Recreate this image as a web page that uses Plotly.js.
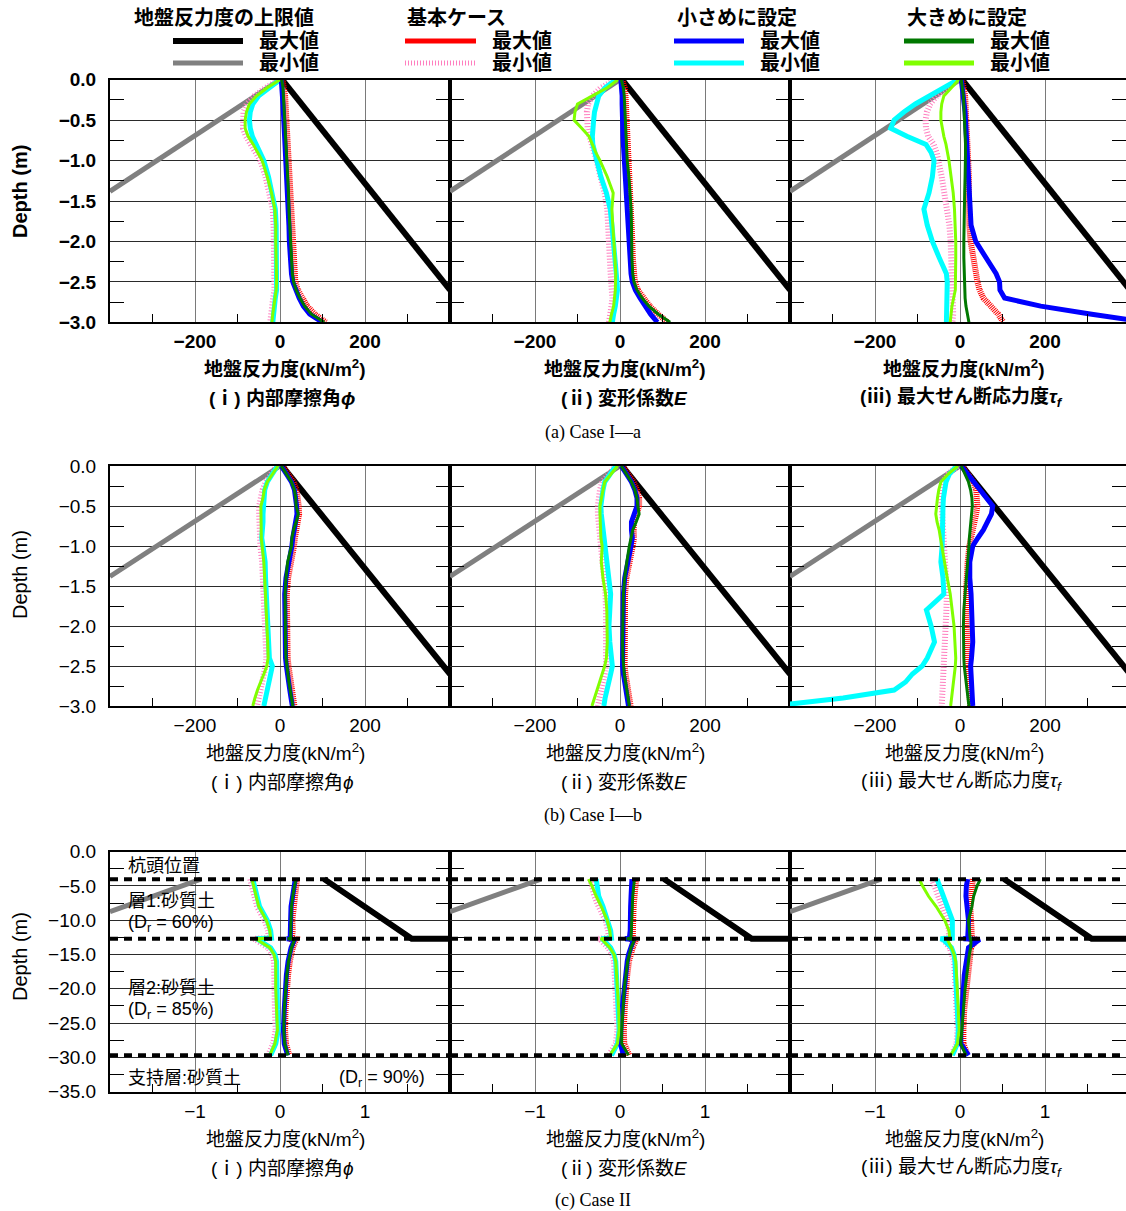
<!DOCTYPE html>
<html><head><meta charset="utf-8">
<script src="https://cdn.plot.ly/plotly-3.0.1.min.js"></script>
<style>body{margin:0;background:#fff}</style>
</head><body><div id="chart" style="width:1126px;height:1211px"></div>
<script>
// ---------- data ----------
const DEPTH_AB = [0,-0.1,-0.2,-0.3,-0.4,-0.5,-0.6,-0.7,-0.8,-0.9,-1.0,-1.2,-1.4,-1.6,-1.8,-2.0,-2.2,-2.4,-2.5,-2.6,-2.7,-2.8,-2.9,-3.0];
const DEPTH_C = [-4,-5,-6.5,-8,-10,-11.5,-12.6,-12.7,-12.8,-14,-15,-16,-18,-20,-23,-26,-28,-29.7];

// (a) Case I-a
const A1_BLUE  = [3,5,6,7,8,9,10,11,12,14,15,17,18,19,21,22,24,27,30,36,45,55,70,100];
const A1_GREEN = [4,7,8,9,10,11,12,13,14,16,17,19,20,21,23,24,26,29,32,38,47,58,74,104];
const A1_RED   = [6,10,12,13,14,15,16,17,18,20,21,23,24,25,27,28,30,33,36,42,52,64,82,108];
const A1_LIME  = [0,-30,-55,-72,-79,-82,-82,-75,-63,-52,-42,-30,-20,-12,-10,-10,-9,-8,-8,-9,-12,-15,-17,-19];
const A1_CYAN  = [0,-26,-50,-64,-70,-72,-70,-65,-56,-47,-38,-27,-18,-11,-9,-9,-8,-7,-7,-8,-11,-13,-15,-17];
const A1_PINK  = [0,-34,-60,-78,-86,-88,-87,-80,-68,-57,-46,-34,-24,-17,-15,-14,-13,-12,-12,-13,-16,-19,-21,-23];

const A2_BLUE  = [2,4,5,5,5,5,6,7,8,9,10,12,15,18,20,21,23,26,29,36,47,58,72,88];
const A2_GREEN = [3,8,10,11,12,12,13,14,15,16,17,21,24,26,27,27,28,30,33,40,52,68,90,118];
const A2_RED   = [5,11,13,14,14,14,15,16,17,18,19,23,26,28,29,29,30,32,35,42,54,70,90,112];
const A2_LIME  = [-5,-30,-65,-100,-106,-108,-90,-73,-65,-57,-47,-30,-16,-19,-17,-14,-12,-10,-10,-11,-13,-15,-20,-24];
const A2_CYAN  = [-10,-35,-50,-56,-60,-62,-64,-65,-64,-60,-56,-45,-32,-23,-19,-15,-11,-8,-7,-6,-8,-11,-15,-18];
const A2_PINK  = [-10,-45,-65,-75,-78,-78,-76,-72,-66,-60,-55,-46,-36,-30,-27,-25,-24,-22,-20,-18,-18,-20,-23,-26];

const A3_BLUE  = [3,6,8,10,12,13,14,15,16,17,17,19,20,22,26,37,60,85,93,94,105,190,310,440];
const A3_GREEN = [3,6,8,9,10,11,12,12,13,13,13,12,11,10,9,9,9,10,10,11,12,14,17,21];
const A3_RED   = [5,10,12,13,14,15,17,19,20,21,21,21,21,21,22,25,33,38,41,46,55,72,90,102];
const A3_LIME  = [-3,-20,-38,-43,-45,-45,-42,-38,-33,-29,-26,-21,-16,-13,-11,-10,-10,-10,-10,-11,-15,-19,-21,-23];
const A3_CYAN  = [-5,-40,-75,-105,-132,-155,-163,-125,-80,-68,-61,-65,-73,-85,-77,-65,-49,-32,-30,-30,-30,-30,-31,-32];
const A3_PINK  = [-5,-30,-55,-70,-78,-81,-80,-75,-62,-55,-50,-43,-37,-30,-25,-22,-20,-18,-17,-16,-15,-15,-16,-18];

// (b) Case I-b
const B1_BLUE  = [3,15,27,34,38,39,40,36,32,30,28,20,14,11,11,11,12,13,15,17,20,23,26,29];
const B1_GREEN = [3,15,27,34,37,38,43,38,32,28,27,18,14,12,12,12,13,14,16,18,21,24,27,30];
const B1_RED   = [6,20,32,39,43,44,45,41,37,35,33,25,19,16,16,16,17,18,20,22,25,28,31,34];
const B1_LIME  = [-5,-18,-30,-37,-40,-45,-45,-45,-44,-44,-42,-38,-36,-34,-33,-31,-29,-28,-31,-38,-46,-53,-59,-64];
const B1_CYAN  = [-6,-18,-30,-36,-38,-40,-40,-40,-42,-43,-40,-35,-34,-32,-31,-29,-27,-25,-18,-22,-27,-32,-35,-38];
const B1_PINK  = [-8,-22,-34,-41,-45,-49,-49,-49,-48,-48,-46,-42,-40,-38,-37,-35,-33,-32,-34,-38,-42,-46,-50,-54];

const B2_BLUE  = [3,15,27,35,40,40,33,27,27,29,26,18,11,8,7,6,5,5,6,8,11,14,17,20];
const B2_GREEN = [3,15,27,35,40,42,45,38,30,26,22,16,11,8,7,6,6,7,8,10,13,16,19,22];
const B2_RED   = [6,20,32,40,45,45,40,33,32,33,30,22,15,12,11,10,10,10,11,13,16,19,22,25];
const B2_LIME  = [-6,-22,-36,-40,-44,-47,-47,-46,-45,-45,-42,-44,-40,-34,-31,-30,-30,-32,-36,-42,-48,-54,-60,-66];
const B2_CYAN  = [-10,-24,-36,-40,-43,-45,-44,-42,-40,-38,-36,-32,-26,-22,-24,-26,-24,-20,-18,-22,-27,-31,-35,-38];
const B2_PINK  = [-10,-28,-42,-47,-50,-52,-52,-50,-48,-47,-45,-42,-38,-34,-33,-33,-32,-32,-33,-36,-40,-44,-48,-52];

const B3_BLUE  = [3,18,32,50,64,77,74,66,55,42,30,23,23,26,28,30,30,27,25,26,27,28,29,30];
const B3_GREEN = [3,12,20,25,28,29,27,25,23,22,21,18,14,11,9,8,8,9,10,12,14,16,18,21];
const B3_RED   = [5,20,32,38,40,41,38,34,30,26,22,18,15,14,14,15,16,18,19,20,21,22,23,24];
const B3_LIME  = [-5,-28,-45,-50,-53,-55,-57,-54,-49,-46,-43,-37,-30,-23,-18,-14,-12,-10,-11,-13,-16,-18,-20,-22];
const B3_CYAN  = [-8,-25,-33,-37,-39,-40,-40,-40,-40,-41,-42,-45,-40,-38,-79,-68,-60,-77,-89,-112,-128,-155,-275,-440];
const B3_PINK  = [-6,-28,-40,-44,-44,-43,-42,-41,-40,-39,-38,-35,-32,-31,-32,-34,-35,-36,-37,-38,-39,-40,-41,-43];

// (c) Case II
const C1_BLUE  = [0.18,0.17,0.15,0.13,0.125,0.13,0.12,0.08,0.17,0.13,0.11,0.095,0.075,0.06,0.05,0.04,0.05,0.09];
const C1_GREEN = [0.19,0.17,0.15,0.135,0.13,0.13,0.125,0.09,0.17,0.135,0.115,0.1,0.08,0.065,0.05,0.045,0.055,0.095];
const C1_RED   = [0.2,0.19,0.17,0.15,0.145,0.15,0.14,0.1,0.19,0.15,0.13,0.115,0.095,0.08,0.065,0.06,0.07,0.11];
const C1_LIME  = [-0.33,-0.31,-0.28,-0.25,-0.16,-0.12,-0.11,-0.29,-0.27,-0.12,-0.07,-0.05,-0.05,-0.05,-0.04,-0.03,-0.06,-0.12];
const C1_CYAN  = [-0.32,-0.3,-0.27,-0.24,-0.15,-0.11,-0.1,-0.28,-0.26,-0.11,-0.06,-0.04,-0.04,-0.04,-0.03,-0.02,-0.05,-0.11];
const C1_PINK  = [-0.35,-0.33,-0.3,-0.27,-0.18,-0.14,-0.13,-0.31,-0.29,-0.14,-0.09,-0.07,-0.07,-0.07,-0.06,-0.05,-0.08,-0.14];

const C2_BLUE  = [0.14,0.14,0.13,0.125,0.125,0.12,0.11,0.06,0.16,0.12,0.1,0.085,0.065,0.045,0.025,0.01,0.005,0.04];
const C2_GREEN = [0.17,0.16,0.15,0.145,0.14,0.14,0.13,0.08,0.17,0.13,0.11,0.09,0.07,0.05,0.035,0.02,0.02,0.1];
const C2_RED   = [0.19,0.18,0.17,0.16,0.155,0.15,0.15,0.1,0.19,0.15,0.125,0.105,0.085,0.07,0.055,0.045,0.05,0.11];
const C2_LIME  = [-0.37,-0.33,-0.28,-0.22,-0.15,-0.12,-0.11,-0.23,-0.21,-0.12,-0.07,-0.05,-0.04,-0.03,-0.015,-0.01,-0.03,-0.12];
const C2_CYAN  = [-0.28,-0.27,-0.25,-0.2,-0.14,-0.11,-0.1,-0.22,-0.2,-0.11,-0.07,-0.05,-0.04,-0.03,-0.02,-0.01,-0.03,-0.1];
const C2_PINK  = [-0.35,-0.33,-0.3,-0.25,-0.17,-0.14,-0.13,-0.25,-0.23,-0.14,-0.09,-0.07,-0.06,-0.05,-0.04,-0.03,-0.05,-0.13];

const C3_BLUE  = [0.09,0.075,0.07,0.08,0.1,0.095,0.09,0.04,0.23,0.1,0.085,0.07,0.05,0.04,0.02,0.01,0.01,0.1];
const C3_GREEN = [0.24,0.2,0.16,0.14,0.1,0.11,0.12,0.12,0.13,0.125,0.11,0.1,0.08,0.06,0.04,0.02,0.01,0.07];
const C3_RED   = [0.15,0.14,0.13,0.12,0.13,0.14,0.14,0.1,0.2,0.13,0.12,0.11,0.09,0.07,0.05,0.04,0.04,0.09];
const C3_LIME  = [-0.48,-0.44,-0.37,-0.28,-0.18,-0.13,-0.12,-0.13,-0.15,-0.1,-0.07,-0.05,-0.04,-0.03,-0.02,-0.01,-0.03,-0.11];
const C3_CYAN  = [-0.27,-0.24,-0.18,-0.14,-0.09,-0.09,-0.09,-0.23,-0.2,-0.1,-0.07,-0.06,-0.05,-0.04,-0.03,-0.02,-0.03,-0.09];
const C3_PINK  = [-0.33,-0.3,-0.25,-0.2,-0.15,-0.13,-0.13,-0.2,-0.2,-0.12,-0.09,-0.07,-0.06,-0.05,-0.04,-0.03,-0.04,-0.1];

// upper-limit lines of subgrade reaction
const UB_AB_MAX_X = [5, 400],   UB_AB_MAX_Y = [0, -2.6];
const UB_AB_MIN_X = [0, -400],  UB_AB_MIN_Y = [0, -1.38];
const UB_C_MAX_X  = [0.52, 1.55, 2.0], UB_C_MAX_Y = [-4.0, -12.7, -12.7];
const UB_C_MIN_X  = [-0.93, -2.0],     UB_C_MIN_Y = [-4.0, -8.75];
const LAYER_DEPTHS = [-4.0, -12.7, -29.7];
const LAYER_X = [-2, 2];

// ticks
const Y_TICKS_AB = [0,-0.5,-1,-1.5,-2,-2.5,-3];
const Y_MINOR_AB = [-0.25,-0.75,-1.25,-1.75,-2.25,-2.75];
const Y_TICKS_C  = [0,-5,-10,-15,-20,-25,-30,-35];
const Y_MINOR_C  = [-2.5,-7.5,-12.5,-17.5,-22.5,-27.5,-32.5];
const X_TICKS_AB = [-200,0,200];
const X_MINOR_AB = [-300,-100,100,300];
const X_TICKS_C  = [-1,0,1];
const X_MINOR_C  = [-1.5,-0.5,0.5,1.5];

// texts
const XTITLE = '地盤反力度(kN/m<sup>2</sup>)';
const SUBTITLES = ['(ⅰ) 内部摩擦角<i>ϕ</i>', '(ⅱ) 変形係数<i>E</i>', '(ⅲ) 最大せん断応力度<i>τ<sub>f</sub></i>'];
const CASE_LABELS = ['(a) Case I—a', '(b) Case I—b', '(c) Case II'];
const LEGEND_HEADERS = ['地盤反力度の上限値', '基本ケース', '小さめに設定', '大きめに設定'];
const LEGEND_ITEMS = ['最大値', '最小値'];
const LAYER_TEXT = ['杭頭位置', '層1:砂質土', '(D<sub>r</sub> = 60%)', '層2:砂質土', '(D<sub>r</sub> = 85%)', '支持層:砂質土', '(D<sub>r</sub> = 90%)'];

// ---------- layout helpers ----------
const W = 1126, H = 1211;
const px = v => v / W;
const py = v => 1 - v / H;
const FONT = 'Liberation Sans, Arial, Noto Sans CJK JP, sans-serif';
const SERIF = 'Liberation Serif, Times New Roman, Noto Serif CJK JP, serif';

const COLS = [[110,450],[450,790],[790,1126]];
const ROWS = [[79.7,322.3],[466,706],[851.7,1091.7]];

const STYLE = {
  ubMin: {color:'#808080', width:5},
  ubMax: {color:'#000000', width:6},
  pink:  {color:'#ff7fbf', width:6, dash:'1px,2px'},
  red:   {color:'#ff0000', width:6, dash:'1px,1px'},
  cyan:  {color:'#00ffff', width:5},
  blue:  {color:'#0000ff', width:5},
  lime:  {color:'#80ff00', width:3},
  green: {color:'#007800', width:3}
};

const PANELS = [
  [A1_PINK,A1_RED,A1_CYAN,A1_BLUE,A1_LIME,A1_GREEN],
  [A2_PINK,A2_RED,A2_CYAN,A2_BLUE,A2_LIME,A2_GREEN],
  [A3_PINK,A3_RED,A3_CYAN,A3_BLUE,A3_LIME,A3_GREEN],
  [B1_PINK,B1_RED,B1_CYAN,B1_BLUE,B1_LIME,B1_GREEN],
  [B2_PINK,B2_RED,B2_CYAN,B2_BLUE,B2_LIME,B2_GREEN],
  [B3_PINK,B3_RED,B3_CYAN,B3_BLUE,B3_LIME,B3_GREEN],
  [C1_PINK,C1_RED,C1_CYAN,C1_BLUE,C1_LIME,C1_GREEN],
  [C2_PINK,C2_RED,C2_CYAN,C2_BLUE,C2_LIME,C2_GREEN],
  [C3_PINK,C3_RED,C3_CYAN,C3_BLUE,C3_LIME,C3_GREEN]
];
const SERIES_KEYS = ['pink','red','cyan','blue','lime','green'];

const traces = [];
const layout = {
  width: W, height: H, margin: {l:0,r:0,t:0,b:0},
  paper_bgcolor: '#fff', plot_bgcolor: '#fff',
  showlegend: false, annotations: [], shapes: []
};

for (let r = 0; r < 3; r++) {
  const bold = r === 0 ? 'bold' : 'normal';
  const isC = r === 2;
  for (let c = 0; c < 3; c++) {
    const k = r * 3 + c + 1;
    const xid = k === 1 ? 'x' : 'x' + k;
    const yid = k === 1 ? 'y' : 'y' + k;
    const depth = isC ? DEPTH_C : DEPTH_AB;
    const xmin = isC ? -2 : -400, span = isC ? 4 : 800;
    const xmax = xmin + (COLS[c][1] - COLS[c][0]) * span / 340;

    traces.push({type:'scatter', mode:'lines', xaxis:xid, yaxis:yid, hoverinfo:'skip',
      x: isC ? UB_C_MIN_X : UB_AB_MIN_X, y: isC ? UB_C_MIN_Y : UB_AB_MIN_Y, line: STYLE.ubMin});
    traces.push({type:'scatter', mode:'lines', xaxis:xid, yaxis:yid, hoverinfo:'skip',
      x: isC ? UB_C_MAX_X : UB_AB_MAX_X, y: isC ? UB_C_MAX_Y : UB_AB_MAX_Y, line: STYLE.ubMax});
    PANELS[k-1].forEach((vals, i) => {
      traces.push({type:'scatter', mode:'lines', xaxis:xid, yaxis:yid, hoverinfo:'skip',
        x: vals, y: depth, line: STYLE[SERIES_KEYS[i]]});
    });
    if (isC) {
      LAYER_DEPTHS.forEach(d => traces.push({type:'scatter', mode:'lines', xaxis:xid, yaxis:yid, hoverinfo:'skip',
        x: LAYER_X, y: [d, d], line: {color:'#000', width:4, dash:'8px,6px'}}));
    }

    const tickfont = {family: FONT, size: 19, color: '#000', weight: bold};
    layout[k === 1 ? 'xaxis' : 'xaxis' + k] = {
      domain: [px(COLS[c][0]), px(COLS[c][1])], anchor: yid,
      range: [xmin, xmax], tickvals: isC ? X_TICKS_C : X_TICKS_AB,
      showgrid: true, gridcolor: '#7a7a7a', gridwidth: 1, zeroline: false,
      showline: true, linecolor: '#000', linewidth: 2, mirror: true, ticks: '',
      minor: {tickvals: isC ? X_MINOR_C : X_MINOR_AB, ticks: 'inside', ticklen: 8, tickcolor: '#000', tickwidth: 1, showgrid: false},
      tickfont: tickfont, ticklabelstandoff: 1, fixedrange: true
    };
    layout[k === 1 ? 'yaxis' : 'yaxis' + k] = {
      domain: [py(ROWS[r][1]), py(ROWS[r][0])], anchor: xid,
      range: isC ? [-35, 0] : [-3, 0], tickvals: isC ? Y_TICKS_C : Y_TICKS_AB, tickformat: '.1f',
      showticklabels: c === 0,
      showgrid: true, gridcolor: '#2a2a2a', gridwidth: 1, zeroline: false,
      showline: true, linecolor: '#000', linewidth: 2, mirror: 'allticks', ticks: '',
      minor: {tickvals: isC ? Y_MINOR_C : Y_MINOR_AB, ticks: 'inside', ticklen: 14, tickcolor: '#000', tickwidth: 1, showgrid: false},
      tickfont: tickfont, ticklabelstandoff: 8, fixedrange: true
    };

    const tY = [368, 752, 1138][r];
    const cx = [285, 625, 964][c];
    const cx2 = [282, 624, 961][c];
    layout.annotations.push({xref:'paper', yref:'paper', x: px(cx), y: py(tY), xanchor:'center', yanchor:'middle',
      showarrow:false, text: XTITLE, font:{family: FONT, size: 19, color:'#000', weight: bold}});
    layout.annotations.push({xref:'paper', yref:'paper', x: px(cx2), y: py(tY + 30), xanchor:'center', yanchor:'middle',
      showarrow:false, text: SUBTITLES[c], font:{family: FONT, size: 19, color:'#000', weight: bold}});
  }
  layout.annotations.push({xref:'paper', yref:'paper', x: px(20), y: py([192, 575, 957][r]), xanchor:'center', yanchor:'middle',
    textangle: -90, showarrow:false, text: 'Depth (m)', font:{family: FONT, size: 20, color:'#000', weight: bold}});
  layout.annotations.push({xref:'paper', yref:'paper', x: px(593), y: py([432, 815, 1200][r]), xanchor:'center', yanchor:'middle',
    showarrow:false, text: CASE_LABELS[r], font:{family: SERIF, size: 18, color:'#000'}});
}

const LAYER_POS = [[126,866],[126,901],[126,923],[126,988],[126,1010],[126,1078],[337,1078]];
LAYER_TEXT.forEach((t, i) => {
  layout.annotations.push({xref:'paper', yref:'paper', x: px(LAYER_POS[i][0]), y: py(LAYER_POS[i][1]),
    xanchor:'left', yanchor:'middle', showarrow:false, text: t, font:{family: FONT, size: 18, color:'#000'}});
});

const LEG_X = [[132,173,243,257],[405,405,476,490],[675,674,744,758],[905,904,974,988]];
const LEG_STYLES = [[STYLE.ubMax, STYLE.ubMin],[{color:'#ff0000', width:5},{color:'#ff7fbf', width:5, dash:'1px,2px'}],
  [STYLE.blue, STYLE.cyan],[{color:'#007800', width:5},{color:'#80ff00', width:5}]];
LEGEND_HEADERS.forEach((h, g) => {
  layout.annotations.push({xref:'paper', yref:'paper', x: px(LEG_X[g][0]), y: py(18), xanchor:'left', yanchor:'middle',
    showarrow:false, text: h, font:{family: FONT, size: 20, color:'#000', weight:'bold'}});
  LEGEND_ITEMS.forEach((it, j) => {
    const yy = [41, 63][j];
    layout.shapes.push({type:'line', xref:'paper', yref:'paper', x0: px(LEG_X[g][1]), x1: px(LEG_X[g][2]),
      y0: py(yy), y1: py(yy), line: LEG_STYLES[g][j]});
    layout.annotations.push({xref:'paper', yref:'paper', x: px(LEG_X[g][3]), y: py(yy), xanchor:'left', yanchor:'middle',
      showarrow:false, text: it, font:{family: FONT, size: 20, color:'#000', weight:'bold'}});
  });
});

Plotly.newPlot('chart', traces, layout, {staticPlot: true, displayModeBar: false});
</script>
</body></html>
